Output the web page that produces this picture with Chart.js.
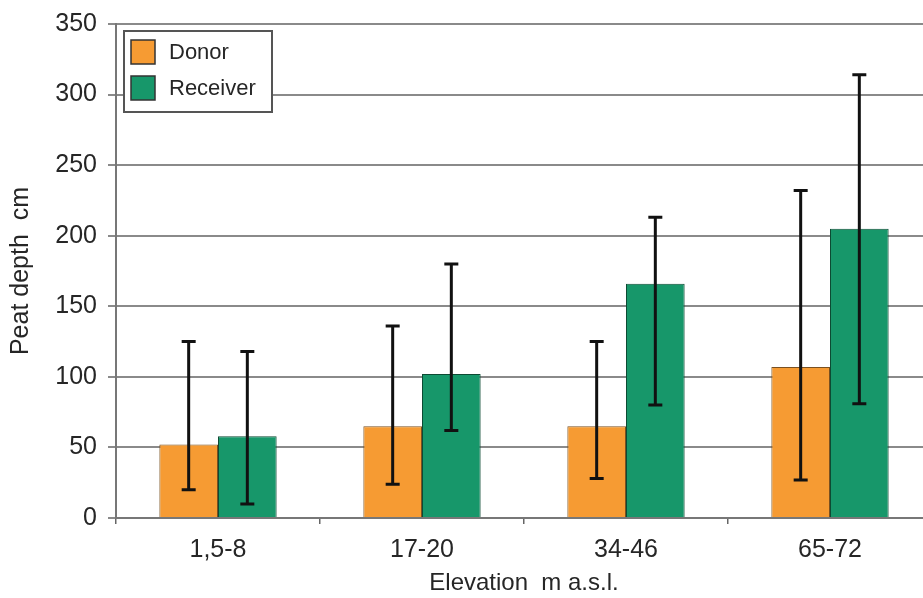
<!DOCTYPE html>
<html>
<head>
<meta charset="utf-8">
<script src="https://cdn.jsdelivr.net/npm/chart.js@4/dist/chart.umd.min.js"></script>
<style>
  html, body { margin: 0; padding: 0; background: #fff; overflow: hidden; }
  #wrap { width: 940px; height: 598px; }
</style>
</head>
<body>
<div id="wrap"><canvas id="peatChart" width="940" height="598"></canvas></div>
<script>
'use strict';
//****************************
// DATA
//****************************
var categories = ['1,5-8', '17-20', '34-46', '65-72'];
var donor = [52, 65, 65, 107];
var receiver = [58, 102, 166, 205];
// error bar ends
var donorHigh = [125, 136, 125, 232];
var donorLow = [20, 24, 28, 27];
var receiverHigh = [118, 180, 213, 314];
var receiverLow = [10, 62, 80, 81];
var yTicks = [0, 50, 100, 150, 200, 250, 300, 350];

var FONT = 'Liberation Sans, Arial, sans-serif';
var TXT = '#262626';

// draws the whiskers using the chart's own scales
var errorBars = {
  id: 'errorBars',
  afterDatasetsDraw: function(chart) {
    var ctx = chart.ctx;
    var y = chart.scales.y;
    var ends = [[donorLow, donorHigh], [receiverLow, receiverHigh]];
    ctx.save();
    ctx.strokeStyle = '#111';
    ctx.lineWidth = 3;
    for (var d = 0; d < chart.data.datasets.length; d++) {
      var meta = chart.getDatasetMeta(d);
      for (var i = 0; i < meta.data.length; i++) {
        var x = meta.data[i].x;
        var top = y.getPixelForValue(ends[d][1][i]);
        var bot = y.getPixelForValue(ends[d][0][i]);
        ctx.beginPath();
        ctx.moveTo(x, top);
        ctx.lineTo(x, bot);
        ctx.moveTo(x - 7, top);
        ctx.lineTo(x + 7, top);
        ctx.moveTo(x - 7, bot);
        ctx.lineTo(x + 7, bot);
        ctx.stroke();
      }
    }
    ctx.restore();
  }
};

// boxed legend in the top left corner of the plot
var boxLegend = {
  id: 'boxLegend',
  afterDraw: function(chart) {
    var ctx = chart.ctx;
    var area = chart.chartArea;
    var x0 = area.left + 8, y0 = area.top + 7;
    ctx.save();
    ctx.fillStyle = '#fff';
    ctx.fillRect(x0, y0, 148, 81);
    ctx.strokeStyle = '#555';
    ctx.lineWidth = 2;
    ctx.strokeRect(x0, y0, 148, 81);
    ctx.font = '22px ' + FONT;
    ctx.textBaseline = 'middle';
    for (var i = 0; i < chart.data.datasets.length; i++) {
      var ds = chart.data.datasets[i];
      var cy = y0 + 21 + i * 36;
      ctx.fillStyle = ds.backgroundColor;
      ctx.fillRect(x0 + 7, cy - 12, 24, 24);
      ctx.strokeStyle = '#333';
      ctx.lineWidth = 1.5;
      ctx.strokeRect(x0 + 7, cy - 12, 24, 24);
      ctx.fillStyle = TXT;
      ctx.fillText(ds.label, x0 + 45, cy + 1);
    }
    ctx.restore();
  }
};

var ctx = document.getElementById('peatChart').getContext('2d');
var chart = new Chart(ctx, {
  type: 'bar',
  data: {
    labels: categories,
    datasets: [{
      label: 'Donor',
      data: donor,
      backgroundColor: '#F69B33',
      borderColor: '#7a5020',
      borderWidth: 1
    }, {
      label: 'Receiver',
      data: receiver,
      backgroundColor: '#17976A',
      borderColor: '#0d4a33',
      borderWidth: 1
    }]
  },
  options: {
    responsive: false,
    animation: false,
    layout: { padding: { top: 24, right: 8, left: 0, bottom: 0 } },
    datasets: { bar: { barPercentage: 1, categoryPercentage: 0.575 } },
    plugins: {
      legend: { display: false },
      tooltip: { enabled: false }
    },
    scales: {
      x: {
        grid: { offset: true, drawOnChartArea: false, drawTicks: true, tickLength: 6, color: '#666', lineWidth: 1.5 },
        border: { color: '#777', width: 2 },
        ticks: { color: TXT, font: { family: FONT, size: 25 }, padding: 11 },
        title: { display: true, text: 'Elevation  m a.s.l.', color: TXT, font: { family: FONT, size: 24 }, padding: { top: 0, bottom: 0 } },
        afterFit: function(s) { s.height = 80; }
      },
      y: {
        min: 0,
        max: 350,
        afterBuildTicks: function(s) { s.ticks = yTicks.map(function(v) { return { value: v }; }); },
        grid: { color: '#8a8a8a', lineWidth: 2, tickLength: 8 },
        border: { color: '#777', width: 2 },
        ticks: { color: TXT, font: { family: FONT, size: 25, lineHeight: 1 }, padding: 11 },
        title: { display: true, text: 'Peat depth  cm', color: TXT, font: { family: FONT, size: 25 }, padding: { top: 6, bottom: 0 } },
        afterFit: function(s) { s.width = 116; }
      }
    }
  },
  plugins: [errorBars, boxLegend]
});
</script>
</body>
</html>
